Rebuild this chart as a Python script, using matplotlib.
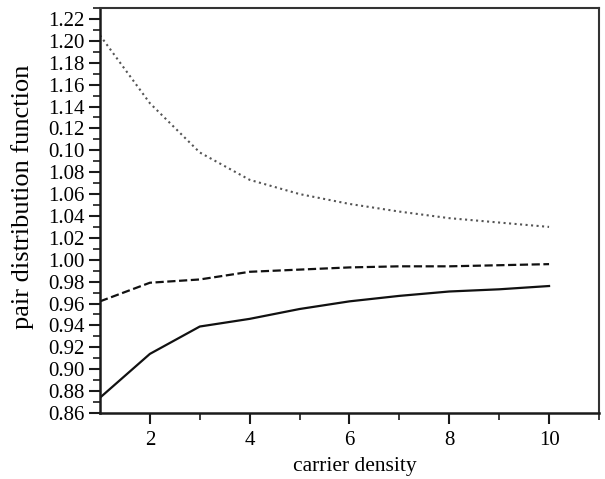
import matplotlib
matplotlib.use("Agg")
import matplotlib.pyplot as plt
from matplotlib.ticker import MultipleLocator, FixedLocator

# dados
densidade = [1, 2, 3, 4, 5, 6, 7, 8, 9, 10]
curva_solida = [0.874, 0.914, 0.939, 0.946, 0.955, 0.962, 0.967, 0.971, 0.973, 0.976]
curva_tracejada = [0.962, 0.979, 0.982, 0.989, 0.991, 0.993, 0.994, 0.994, 0.995, 0.996]
curva_pontilhada = [1.205, 1.143, 1.098, 1.073, 1.060, 1.051, 1.044, 1.038, 1.034, 1.030]

y_ticks = [0.86, 0.88, 0.90, 0.92, 0.94, 0.96, 0.98, 1.00, 1.02, 1.04, 1.06,
           1.08, 1.10, 1.12, 1.14, 1.16, 1.18, 1.20, 1.22]
y_labels = ["0.86", "0.88", "0.90", "0.92", "0.94", "0.96", "0.98", "1.00",
            "1.02", "1.04", "1.06", "1.08", "0.10", "0.12", "1.14", "1.16",
            "1.18", "1.20", "1.22"]
x_ticks = [2, 4, 6, 8, 10]

plt.rcParams["font.family"] = ["Liberation Serif", "DejaVu Serif"]

fig = plt.figure(figsize=(6.05, 4.79), dpi=100)
ax = fig.add_axes([0.1653, 0.1378, 0.8247, 0.8455])

ax.plot(densidade, curva_solida, color="#111111", linewidth=1.6, linestyle="-")
ax.plot(densidade, curva_tracejada, color="#111111", linewidth=1.6, linestyle="--")
ax.plot(densidade, curva_pontilhada, color="#555555", linewidth=1.5, linestyle=":")

ax.set_xlim(1, 11)
ax.set_ylim(0.86, 1.23)

ax.set_xticks(x_ticks)
ax.xaxis.set_minor_locator(FixedLocator([3, 5, 7, 9, 11]))
ax.set_yticks(y_ticks)
ax.set_yticklabels(y_labels)
ax.yaxis.set_minor_locator(MultipleLocator(0.01))

ax.tick_params(which="major", direction="out", length=8, width=1.5,
               labelsize=15, color="#1a1a1a", pad=3)
ax.tick_params(which="minor", direction="out", length=5, width=1.2,
               color="#1a1a1a")
ax.tick_params(axis="x", which="major", pad=5)

for lado in ["left", "bottom"]:
    ax.spines[lado].set_linewidth(1.8)
    ax.spines[lado].set_color("#1a1a1a")
for lado in ["top", "right"]:
    ax.spines[lado].set_linewidth(1.5)
    ax.spines[lado].set_color("#333333")

ax.set_xlabel("carrier density", fontsize=15.5)
ax.set_ylabel("pair distribution function", fontsize=19)
ax.xaxis.set_label_coords(0.511, -0.108)
ax.yaxis.set_label_coords(-0.132, 0.533)

fig.savefig("out.png", dpi=100)
